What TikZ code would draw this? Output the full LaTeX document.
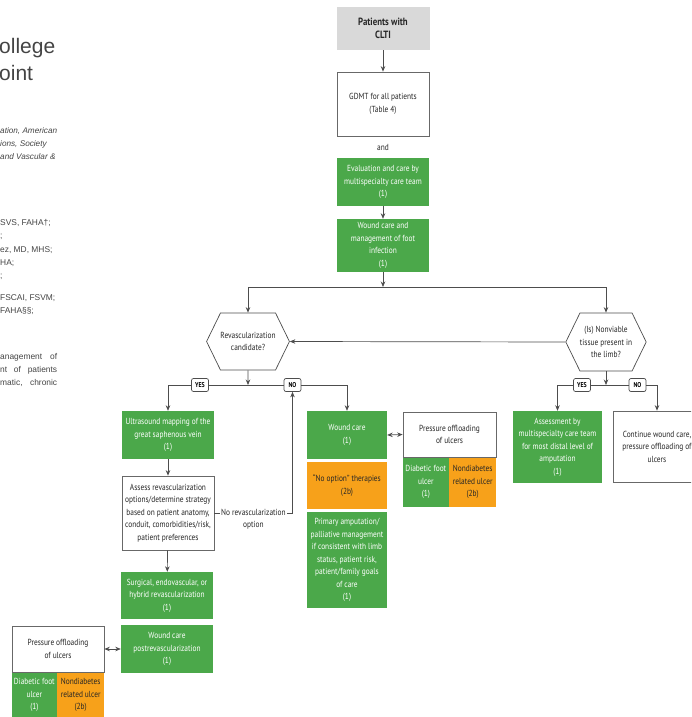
\documentclass[tikz,border=0pt]{standalone}
\usepackage{fontspec}
\usepackage{xcolor}
\setmainfont{PT Sans}[FakeStretch=0.84]
\newfontfamily\pagefont{Liberation Sans}
\usetikzlibrary{arrows.meta,shapes.symbols}

\definecolor{boxgreen}{HTML}{4BA84A}
\definecolor{boxorange}{HTML}{F7A11A}
\definecolor{boxgrey}{HTML}{D9D9D9}
\definecolor{linegrey}{HTML}{4D4D4D}
\definecolor{pagegrey}{HTML}{444444}

\tikzset{
  sz/.style 2 args={minimum width=#1, minimum height=#2},
  box/.style={rectangle, align=center, inner sep=1pt, text=black!85,
    font=\fontsize{8.8}{12.5}\selectfont},
  greenbox/.style={box, fill=boxgreen, text=white},
  orangebox/.style={box, fill=boxorange},
  whitebox/.style={box, fill=white, draw=linegrey!85, line width=0.7pt},
  titlebox/.style={box, fill=boxgrey, font=\bfseries\fontsize{10.5}{13.5}\selectfont},
  decision/.style={shape=signal, signal to=west and east, signal pointer angle=128,
    draw=linegrey, fill=white, line width=0.7pt, align=center, inner sep=0pt,
    text=black!85, font=\fontsize{8.8}{12.5}\selectfont},
  tag/.style={rectangle, rounded corners=2pt, draw=linegrey, fill=white, line width=0.7pt,
    inner sep=1pt, minimum width=17, minimum height=13,
    font=\bfseries\fontsize{7}{8}\selectfont},
  midlabel/.style={fill=white, align=center, inner sep=1.5pt, anchor=north, yshift=6,
    text=black!85, font=\fontsize{8.8}{12.5}\selectfont},
  plain/.style={text=black!85, font=\fontsize{8.8}{12.5}\selectfont},
  pg/.style={anchor=base west, inner sep=0pt, text=pagegrey,
    font=\pagefont\fontsize{8.4}{10}\selectfont},
  line/.style={draw=linegrey, line width=0.7pt},
  conn/.style={line, ->},
}

\begin{document}
\begin{tikzpicture}[x=1pt, y=-1pt, >={Stealth[length=5.5pt,width=4.5pt]}]
  \useasboundingbox (0,0) rectangle (691,717);
  \clip (0,0) rectangle (691,717);

  % page behind the chart
  \node[pg, font=\pagefont\fontsize{21}{21}\selectfont] (ttla) at (-1,53) {ollege};
  \node[pg, font=\pagefont\fontsize{21}{21}\selectfont] (ttlb) at (-1,80) {oint};
  \node[pg, font=\pagefont\itshape\fontsize{8.2}{10}\selectfont] (orga) at (0,133) {ation, American};
  \node[pg, font=\pagefont\itshape\fontsize{8.2}{10}\selectfont] (orgb) at (0,146) {ions, Society};
  \node[pg, font=\pagefont\itshape\fontsize{8.2}{10}\selectfont] (orgc) at (0,159) {and Vascular \&};
  \node[pg] (auta) at (0,225) {SVS, FAHA†;};
  \node[pg] (autb) at (0,238) {;};
  \node[pg] (autc) at (0,252) {ez, MD, MHS;};
  \node[pg] (autd) at (0,265) {HA;};
  \node[pg] (aute) at (0,278) {;};
  \node[pg] (autf) at (0,300) {FSCAI, FSVM;};
  \node[pg] (autg) at (0,313) {FAHA§§;};
  \node[pg] (absa) at (0,359) {\makebox[57pt][s]{anagement of}};
  \node[pg] (absb) at (0,372) {\makebox[57pt][s]{nt of patients}};
  \node[pg] (absc) at (0,385) {\makebox[57pt][s]{matic, chronic}};

  % top column
  \node[titlebox, sz={93}{43}] (pat) at (383,28.5) {Patients with\\CLTI};
  \node[whitebox, sz={92}{64}] (gdmt) at (383,104) {GDMT for all patients\\(Table 4)};
  \node[plain] (and) at (383,147) {and};
  \node[greenbox, sz={92}{48}] (eval) at (383,182) {Evaluation and care by\\multispecialty care team\\(1)};
  \node[greenbox, sz={92}{53}] (wnd) at (383,245.5) {Wound care and\\management of foot\\infection\\(1)};

  \node[decision, sz={78}{57}] (revasc) at (248,341.5) {Revascularization\\candidate?};
  \node[decision, sz={79}{58}] (nonv) at (606,342) {(Is) Nonviable\\tissue present in\\the limb?};

  \coordinate (split) at (383,287);
  \coordinate (splitL) at (248,385);
  \coordinate (splitR) at (606,385);

  \node[tag] (yesL) at (200,385) {YES};
  \node[tag] (noL) at (292.5,385) {NO};
  \node[tag] (yesR) at (582,385) {YES};
  \node[tag] (noR) at (637.5,385) {NO};

  % revascularization side
  \node[greenbox, sz={92}{48}] (us) at (168,435) {Ultrasound mapping of the\\great saphenous vein\\(1)};
  \node[whitebox, sz={92}{74}] (assess) at (168,513) {Assess revascularization\\options/determine strategy\\based on patient anatomy,\\conduit, comorbidities/risk,\\patient preferences};
  \node[greenbox, sz={92}{47}] (surg) at (167,595.5) {Surgical, endovascular, or\\hybrid revascularization\\(1)};
  \node[greenbox, sz={92}{48}] (post) at (167,649) {Wound care\\postrevascularization\\(1)};
  \node[whitebox, sz={92}{46}] (offL) at (58,649) {Pressure offloading\\of ulcers};
  \node[greenbox, sz={45}{45}, anchor=north west] (dfuL) at (offL.south west) {Diabetic foot\\ulcer\\(1)};
  \node[orangebox, sz={47}{45}, anchor=north east] (ndL) at (offL.south east) {Nondiabetes\\related ulcer\\(2b)};

  % no revascularization
  \node[greenbox, sz={80}{48}] (wc) at (347,435) {Wound care\\(1)};
  \node[orangebox, sz={80}{47}] (noopt) at (347,485.5) {“No option” therapies\\(2b)};
  \node[greenbox, sz={80}{96}] (prim) at (347,560) {Primary amputation/\\palliative management\\if consistent with limb\\status, patient risk,\\patient/family goals\\of care\\(1)};
  \node[whitebox, sz={93}{45}] (offM) at (449.5,434.5) {Pressure offloading\\of ulcers};
  \node[greenbox, sz={46}{49}, anchor=north west] (dfuM) at (offM.south west) {Diabetic foot\\ulcer\\(1)};
  \node[orangebox, sz={47}{49}, anchor=north east] (ndM) at (offM.south east) {Nondiabetes\\related ulcer\\(2b)};

  % nonviable tissue
  \node[greenbox, sz={89}{72}] (amp) at (557.5,447) {Assessment by\\multispecialty care team\\for most distal level of\\amputation\\(1)};
  \node[whitebox, sz={88}{71}] (cont) at (657,446.5) {Continue wound care,\\pressure offloading of\\ulcers};

  \draw[conn] (pat) -- (gdmt);
  \draw[conn] (eval) -- (wnd);
  \draw[conn] (wnd) -- (split);
  \draw[conn] (split) -| (revasc.north);
  \draw[conn] (split) -| (nonv.north);
  \draw[conn] (nonv.west) -- (revasc.east);

  \draw[conn] (revasc) -- (splitL);
  \draw[line] (splitL) -- (yesL);
  \draw[conn] (yesL.west) -| (us.north);
  \draw[line] (splitL) -- (noL);
  \draw[conn] (noL.east) -| (wc.north);
  \draw[conn] (us) -- (assess);
  \draw[conn] (assess) -- (surg);
  \draw[conn] (assess.east) -- node[midlabel] (norev) {No revascularization\\option}
    (assess.east -| noL.south) -- (noL.south);
  \draw[line, <->] (post.west) -- (offL.east);
  \draw[line, <->] (wc.east) -- (offM.west);

  \draw[conn] (nonv) -- (splitR);
  \draw[line] (splitR) -- (yesR);
  \draw[conn] (yesR.west) -| (amp.north);
  \draw[line] (splitR) -- (noR);
  \draw[conn] (noR.east) -| (cont.north);
\end{tikzpicture}
\end{document}
